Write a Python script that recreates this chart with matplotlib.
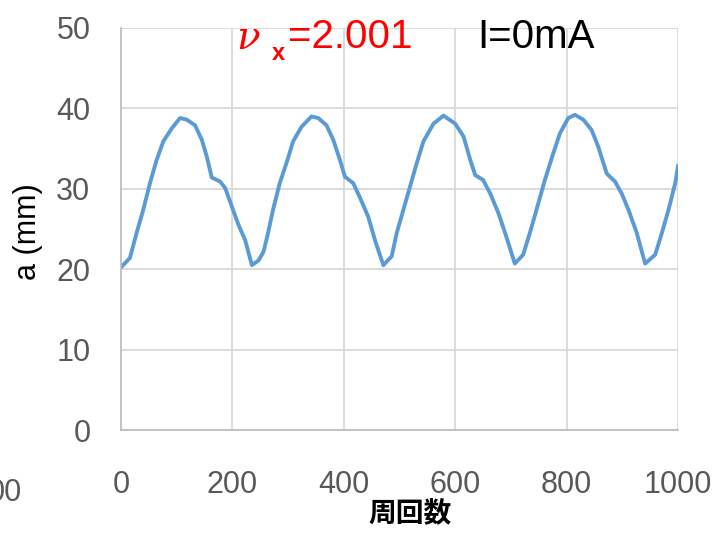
import matplotlib
matplotlib.use("Agg")
import matplotlib.pyplot as plt

# turn number vs amplitude a (mm)
turns = [1, 16, 28, 40, 52, 64, 76, 91, 106, 118, 133, 145, 154, 163, 178, 187,
         199, 211, 223, 235, 247, 256, 264, 273, 285, 298, 309, 324, 342, 354,
         369, 381, 393, 402, 417, 429, 444, 456, 471, 486, 495, 507, 519, 531,
         543, 561, 579, 600, 615, 627, 636, 650, 663, 678, 692, 707, 722, 734,
         746, 761, 776, 788, 803, 815, 830, 845, 857, 872, 887, 899, 911, 926,
         941, 959, 971, 983, 995, 1000]
amp = [20.3, 21.4, 24.5, 27.4, 30.7, 33.6, 35.9, 37.5, 38.8, 38.6, 37.9, 36.1,
       34.0, 31.4, 30.9, 30.1, 27.8, 25.5, 23.6, 20.5, 21.1, 22.2, 24.5, 27.4,
       30.7, 33.4, 35.9, 37.7, 39.0, 38.8, 37.9, 36.1, 33.6, 31.5, 30.7, 28.9,
       26.5, 23.6, 20.5, 21.6, 24.5, 27.4, 30.3, 33.2, 35.9, 38.1, 39.1, 38.1,
       36.5, 33.6, 31.7, 31.1, 29.4, 26.9, 24.0, 20.7, 21.8, 24.5, 27.4, 31.1,
       34.4, 36.9, 38.8, 39.2, 38.6, 37.3, 35.2, 31.9, 30.9, 29.4, 27.4, 24.5,
       20.7, 21.8, 24.5, 27.4, 30.7, 32.8]
xticks = [0, 200, 400, 600, 800, 1000]
yticks = [0, 10, 20, 30, 40, 50]

plt.rcParams['font.family'] = ['Liberation Sans', 'Noto Sans CJK JP', 'DejaVu Sans']

fig = plt.figure(figsize=(7.19, 5.40), dpi=100)
ax = fig.add_axes([121/719, 1-430/540, 557/719, 402/540])

ax.plot(turns, amp, color='#5B9BD5', linewidth=2.8, solid_joinstyle='round')

ax.set_xlim(0, 1000)
ax.set_ylim(0, 50)
ax.set_xticks(xticks)
ax.set_yticks(yticks)
ax.grid(True, color='#D9D9D9', linewidth=1.3)
ax.set_axisbelow(True)
for s in ['top', 'right']:
    ax.spines[s].set_visible(False)
for s in ['left', 'bottom']:
    ax.spines[s].set_color('#BFBFBF')
    ax.spines[s].set_linewidth(1.3)
ax.tick_params(axis='both', length=0, colors='#595959', labelsize=22)
ax.tick_params(axis='x', pad=29)
ax.tick_params(axis='y', pad=22)

# labels
fig.text(410/719, 1-514/540, '周回数', fontsize=20, fontweight='bold',
         family=['Noto Sans CJK JP', 'DejaVu Sans'], ha='center', va='center')
fig.text(28/719, 1-232/540, 'a (mm)', fontsize=22, rotation=90,
         ha='center', va='center')
fig.text(22/719, 1-493/540, '00', fontsize=22, color='#595959',
         ha='right', va='center')

# annotations
fig.text(236/719, 1-49/540, 'ν', fontsize=28, color='red', style='italic',
         family=['DejaVu Serif'], ha='left', va='baseline')
fig.text(272/719, 1-60/540, 'x', fontsize=17, color='red', fontweight='bold',
         ha='left', va='baseline')
fig.text(288/719, 1-48/540, '=2.001', fontsize=29, color='red',
         ha='left', va='baseline')
fig.text(477/719, 1-48/540, 'I=0mA', fontsize=29, color='black',
         ha='left', va='baseline')

fig.savefig('out.png', dpi=100)
